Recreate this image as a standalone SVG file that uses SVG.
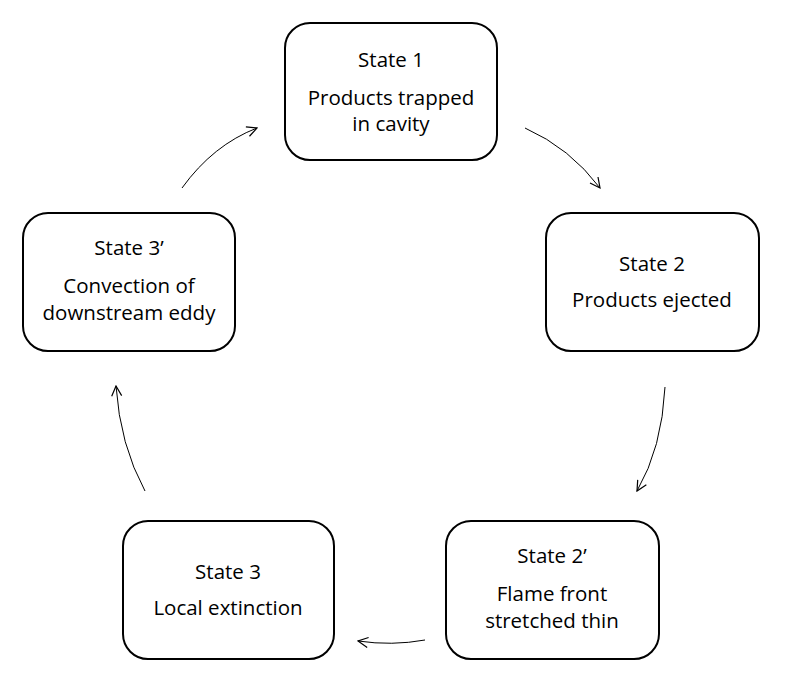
<svg xmlns="http://www.w3.org/2000/svg" width="787" height="685" viewBox="0 0 787 685">
<style>
.box{fill:#fff;stroke:#000;stroke-width:2}
.t{font-family:"Open Sans","Liberation Sans",Arial,sans-serif;font-size:20.5px;fill:#000;text-anchor:middle;dominant-baseline:middle}
.c{fill:none;stroke:#000;stroke-width:1}
</style>
<defs>
<marker id="ah" viewBox="0 0 12 12" refX="11" refY="6" markerWidth="12" markerHeight="12" markerUnits="userSpaceOnUse" orient="auto">
<path d="M1,1 L11,6 L1,11" fill="none" stroke="#000" stroke-width="1.2"/>
</marker>
</defs>
<rect width="787" height="685" fill="#fff"/>
<g id="connectors">
<path class="c" d="M525,128 Q570,148 600,188" marker-end="url(#ah)"/>
<path class="c" d="M665,387 Q662,448 637,491" marker-end="url(#ah)"/>
<path class="c" d="M425,640 Q392,646 358,641" marker-end="url(#ah)"/>
<path class="c" d="M145,491 Q120,445 116,386" marker-end="url(#ah)"/>
<path class="c" d="M182,188 Q213,145 257,128" marker-end="url(#ah)"/>
</g>
<g id="state1">
<rect class="box" x="285" y="23" width="212" height="137" rx="25"/>
<text class="t" x="391" y="62">State 1</text>
<text class="t" x="391" y="100">Products trapped</text>
<text class="t" x="391" y="126">in cavity</text>
</g>
<g id="state2">
<rect class="box" x="546" y="213" width="213" height="138" rx="25"/>
<text class="t" x="652" y="266">State 2</text>
<text class="t" x="652" y="302">Products ejected</text>
</g>
<g id="state2p">
<rect class="box" x="446" y="521" width="213" height="138" rx="25"/>
<text class="t" x="552" y="558">State 2’</text>
<text class="t" x="552" y="596">Flame front</text>
<text class="t" x="552" y="623">stretched thin</text>
</g>
<g id="state3">
<rect class="box" x="123" y="521" width="211" height="138" rx="25"/>
<text class="t" x="228" y="574">State 3</text>
<text class="t" x="228" y="610">Local extinction</text>
</g>
<g id="state3p">
<rect class="box" x="23" y="213" width="212" height="138" rx="25"/>
<text class="t" x="129" y="250">State 3’</text>
<text class="t" x="129" y="288">Convection of</text>
<text class="t" x="129" y="315">downstream eddy</text>
</g>
</svg>
